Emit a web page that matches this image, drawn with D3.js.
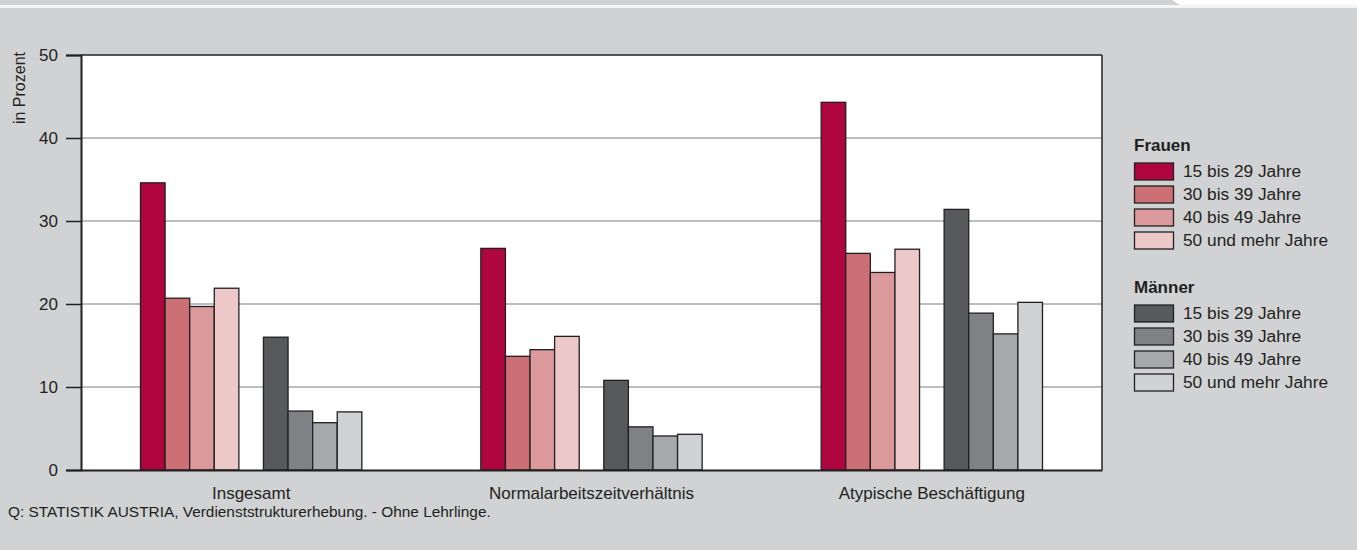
<!DOCTYPE html>
<html>
<head>
<meta charset="utf-8">
<script src="https://cdn.jsdelivr.net/npm/d3@7"></script>
<style>
  body { margin: 0; background: #d1d2d4; }
  svg { display: block; font-family: "Liberation Sans", Arial, sans-serif; }
</style>
</head>
<body>
<div id="main_output"></div>
<script>
// categories and series
var categories = ["Insgesamt", "Normalarbeitszeitverhältnis", "Atypische Beschäftigung"];
var ageGroups = ["15 bis 29 Jahre", "30 bis 39 Jahre", "40 bis 49 Jahre", "50 und mehr Jahre"];

var frauen = [
  [34.6, 20.7, 19.7, 21.9],
  [26.7, 13.7, 14.5, 16.1],
  [44.3, 26.1, 23.8, 26.6]
];
var maenner = [
  [16.0, 7.1, 5.7, 7.0],
  [10.8, 5.2, 4.1, 4.3],
  [31.4, 18.9, 16.4, 20.2]
];

var yTicks = [0, 10, 20, 30, 40, 50];

const frauen_colours = ["#b0063f", "#cc7076", "#db999b", "#edc8c8"];
const maenner_colours = ["#58595b", "#808184", "#a7a8ab", "#d1d2d4"];
const bg_colour = "#d1d2d4";
const line_colour = "#231f20";

var W = 1357, H = 550;
var margin = {top: 55, left: 81, right: 255, bottom: 80};
var width = W - margin.left - margin.right;   // 1021
var height = H - margin.top - margin.bottom;  // 415

var svg = d3.select("#main_output").append("svg")
    .attr("width", W).attr("height", H)
    .style("background", bg_colour);

// top strip
svg.append("rect").attr("x", 0).attr("y", 5).attr("width", W).attr("height", 3)
    .attr("fill", "#f4f4f4");
svg.append("path")
    .attr("d", "M1172,0 L" + W + ",0 L" + W + ",5 L1180,5 Z")
    .attr("fill", "#ffffff");

var x0 = d3.scaleBand().domain(categories).range([0, width]);
// 9 slots per category: 4 women, gap, 4 men
var x1 = d3.scaleBand().domain(d3.range(9)).range([59.5, x0.bandwidth() - 59.5]);
var y = d3.scaleLinear().domain([0, 50]).range([height, 0]);

var g = svg.append("g").attr("transform", "translate(" + margin.left + "," + margin.top + ")");

g.append("rect").attr("width", width).attr("height", height).attr("fill", "#ffffff");

// grid lines
g.selectAll(".grid").data(yTicks.filter(function(d) { return d > 0 && d < 50; }))
  .enter().append("line")
    .attr("x1", 0).attr("x2", width)
    .attr("y1", function(d) { return y(d); }).attr("y2", function(d) { return y(d); })
    .attr("stroke", "#a6a7a9").attr("stroke-width", 1.5);

// bars
var bars = [];
categories.forEach(function(c, ci) {
  frauen[ci].forEach(function(v, i) { bars.push({cat: c, slot: i, value: v, fill: frauen_colours[i]}); });
  maenner[ci].forEach(function(v, i) { bars.push({cat: c, slot: i + 5, value: v, fill: maenner_colours[i]}); });
});

g.selectAll(".bar").data(bars).enter().append("rect")
    .attr("class", "bar")
    .attr("x", function(d) { return x0(d.cat) + x1(d.slot); })
    .attr("y", function(d) { return y(d.value); })
    .attr("width", x1.bandwidth())
    .attr("height", function(d) { return height - y(d.value); })
    .attr("fill", function(d) { return d.fill; })
    .attr("stroke", line_colour).attr("stroke-width", 1.3);

// frame
g.append("line").attr("x1", 0).attr("x2", width).attr("y1", 0).attr("y2", 0)
    .attr("stroke", line_colour).attr("stroke-width", 1.5);
g.append("line").attr("x1", width).attr("x2", width).attr("y1", 0).attr("y2", height)
    .attr("stroke", line_colour).attr("stroke-width", 1.5);

// y axis
var yAxis = d3.axisLeft(y).tickValues(yTicks).tickSize(15).tickPadding(8).tickFormat(d3.format("d"));
var ya = g.append("g").call(yAxis);
ya.select(".domain").attr("stroke", line_colour).attr("stroke-width", 2);
ya.selectAll(".tick line").attr("stroke", line_colour).attr("stroke-width", 1.5);
ya.selectAll(".tick text").attr("font-size", "17px").attr("fill", "#231f20")
    .attr("font-family", "Liberation Sans, Arial, sans-serif");

// x axis
var xAxis = d3.axisBottom(x0).tickSize(0).tickPadding(17);
var xa = g.append("g").attr("transform", "translate(0," + height + ")").call(xAxis);
xa.select(".domain").attr("stroke", line_colour).attr("stroke-width", 2.2);
xa.selectAll(".tick text").attr("font-size", "17px").attr("fill", "#231f20")
    .attr("font-family", "Liberation Sans, Arial, sans-serif");

// y label
svg.append("text")
    .attr("transform", "translate(25,52) rotate(-90)")
    .attr("text-anchor", "end")
    .attr("font-size", "16px")
    .attr("fill", "#231f20")
    .text("in Prozent");

// legend
var legend = svg.append("g").attr("transform", "translate(1134,0)");
function legendBlock(title, titleY, rowY, colours) {
  legend.append("text").attr("x", 0).attr("y", titleY)
      .attr("font-size", "17px").attr("font-weight", "bold").attr("fill", "#231f20")
      .text(title);
  ageGroups.forEach(function(a, i) {
    legend.append("rect").attr("x", 0.5).attr("y", rowY + i * 23)
        .attr("width", 39).attr("height", 17)
        .attr("fill", colours[i]).attr("stroke", line_colour).attr("stroke-width", 1.3);
    legend.append("text").attr("x", 49).attr("y", rowY + i * 23 + 14)
        .attr("font-size", "17.3px").attr("fill", "#231f20").text(a);
  });
}
legendBlock("Frauen", 151, 163, frauen_colours);
legendBlock("Männer", 293, 305, maenner_colours);

// footer
svg.append("text").attr("x", 8).attr("y", 517)
    .attr("font-size", "15.4px").attr("fill", "#231f20")
    .text("Q: STATISTIK AUSTRIA, Verdienststrukturerhebung. - Ohne Lehrlinge.");
</script>
</body>
</html>
